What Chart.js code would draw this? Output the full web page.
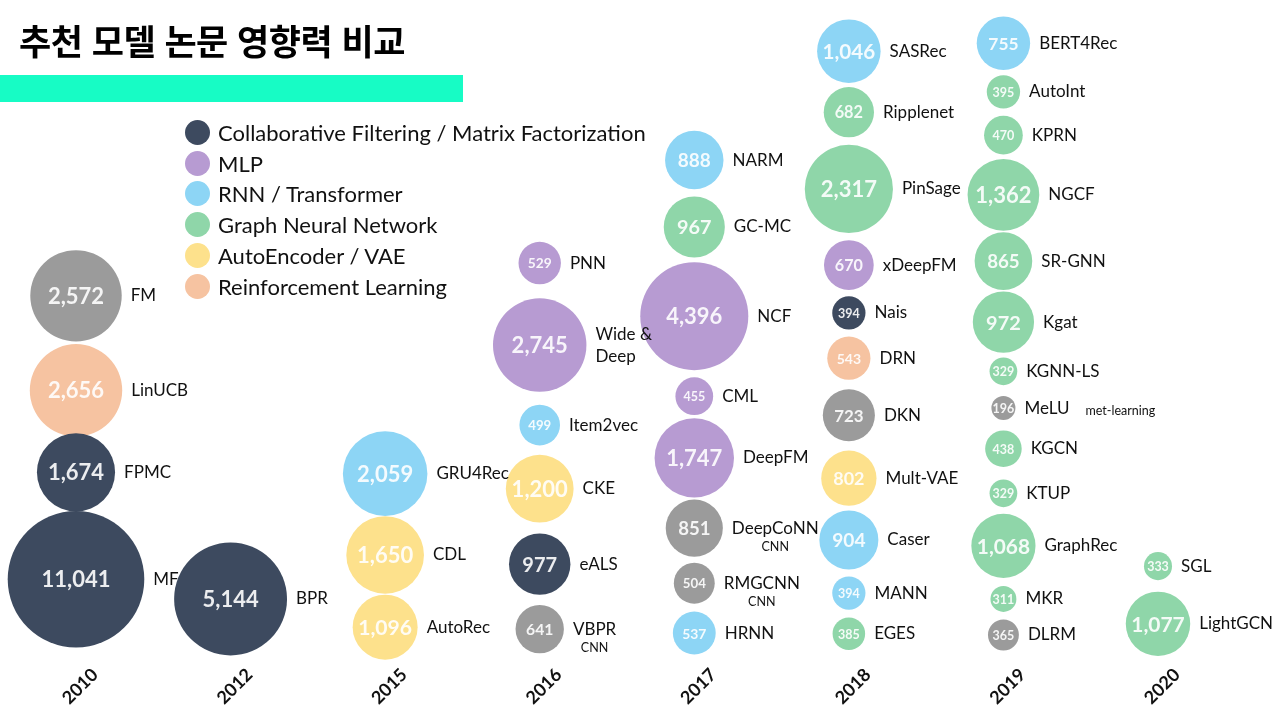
<!DOCTYPE html>
<html lang="ko">
<head>
<meta charset="utf-8">
<title>추천 모델 논문 영향력 비교</title>
<script src="https://cdn.jsdelivr.net/npm/chart.js@4.4.1/dist/chart.umd.min.js"></script>
<style>
    body { margin: 0; background: #fff; }
    #wrap { position: relative; width: 1274px; height: 716px; overflow: hidden; }
    #chart { position: absolute; left: 0; top: 0; }
    h1 {
        position: absolute; left: 19px; top: 14px; margin: 0;
        font: 700 35px "Noto Sans CJK KR", sans-serif; color: #000; letter-spacing: -0.5px;
    }
    .bar { position: absolute; left: 0; top: 75px; width: 463px; height: 27px; background: #17fcc5; }
    #legend { position: absolute; left: 185px; top: 117px; margin: 0; padding: 0; list-style: none; }
    #legend li { height: 30.8px; display: flex; align-items: center; font: 22px Lato, sans-serif; color: #111; }
    #legend span { width: 25px; height: 25px; border-radius: 50%; margin-right: 8px; flex: none; }
</style>
</head>
<body>
<div id="wrap">
    <canvas id="chart" width="1274" height="716"></canvas>
    <h1>추천 모델 논문 영향력 비교</h1>
    <div class="bar"></div>
    <ul id="legend"></ul>
</div>
<script>
// 데이터
const years = ['2010', '2012', '2015', '2016', '2017', '2018', '2019', '2020'];
const groups = [
    'Collaborative Filtering / Matrix Factorization',
    'MLP',
    'RNN / Transformer',
    'Graph Neural Network',
    'AutoEncoder / VAE',
    'Reinforcement Learning',
    'Other'
];
const groupColors = ['#3d4a5f', '#b79bd2', '#8dd5f5', '#8fd6a9', '#fde18c', '#f6c3a1', '#9b9b9b'];

const modelNames = [
    'FM', 'LinUCB', 'FPMC', 'MF',
    'BPR',
    'GRU4Rec', 'CDL', 'AutoRec',
    'PNN', 'Wide &\nDeep', 'Item2vec', 'CKE', 'eALS', 'VBPR',
    'NARM', 'GC-MC', 'NCF', 'CML', 'DeepFM', 'DeepCoNN', 'RMGCNN', 'HRNN',
    'SASRec', 'Ripplenet', 'PinSage', 'xDeepFM', 'Nais', 'DRN', 'DKN', 'Mult-VAE', 'Caser', 'MANN', 'EGES',
    'BERT4Rec', 'AutoInt', 'KPRN', 'NGCF', 'SR-GNN', 'Kgat', 'KGNN-LS', 'MeLU', 'KGCN', 'KTUP', 'GraphRec', 'MKR', 'DLRM',
    'SGL', 'LightGCN'
];
const modelYears = [
    '2010', '2010', '2010', '2010',
    '2012',
    '2015', '2015', '2015',
    '2016', '2016', '2016', '2016', '2016', '2016',
    '2017', '2017', '2017', '2017', '2017', '2017', '2017', '2017',
    '2018', '2018', '2018', '2018', '2018', '2018', '2018', '2018', '2018', '2018', '2018',
    '2019', '2019', '2019', '2019', '2019', '2019', '2019', '2019', '2019', '2019', '2019', '2019', '2019',
    '2020', '2020'
];
const citations = [
    2572, 2656, 1674, 11041,
    5144,
    2059, 1650, 1096,
    529, 2745, 499, 1200, 977, 641,
    888, 967, 4396, 455, 1747, 851, 504, 537,
    1046, 682, 2317, 670, 394, 543, 723, 802, 904, 394, 385,
    755, 395, 470, 1362, 865, 972, 329, 196, 438, 329, 1068, 311, 365,
    333, 1077
];
// 0: CF/MF, 1: MLP, 2: RNN/Transformer, 3: GNN, 4: AE/VAE, 5: RL, 6: 기타(회색)
const modelGroups = [
    6, 5, 0, 0,
    0,
    2, 4, 4,
    1, 1, 2, 4, 0, 6,
    2, 3, 1, 1, 1, 6, 6, 2,
    2, 3, 3, 1, 0, 5, 6, 4, 2, 2, 3,
    2, 3, 3, 3, 3, 3, 3, 6, 3, 3, 3, 3, 6,
    3, 3
];
// 세로 위치 (0 = 아래, 100 = 위)
const rowLevels = [
    54.9, 40.5, 28.0, 11.7,
    8.7,
    27.8, 15.4, 4.4,
    59.9, 47.4, 35.2, 25.5, 14.0, 4.1,
    75.6, 65.4, 51.8, 39.6, 30.2, 19.5, 11.1, 3.5,
    92.2, 82.9, 71.2, 59.6, 52.3, 45.4, 36.7, 27.1, 17.7, 9.6, 3.4,
    93.4, 86.0, 79.4, 70.3, 60.2, 50.9, 43.4, 37.8, 31.6, 24.8, 16.8, 8.7, 3.2,
    13.7, 4.9
];
const modelNotes = {
    'VBPR': 'CNN',
    'DeepCoNN': 'CNN',
    'RMGCNN': 'CNN',
    'MeLU': 'met-learning'
};

// 인용 수 -> 버블 반지름
function bubbleRadius(v) {
    return Math.max(12, 15.5 * Math.log(v) - 76);
}

const datasets = groups.map((g, gi) => ({
    label: g,
    backgroundColor: groupColors[gi],
    borderWidth: 0,
    hoverBorderWidth: 0,
    clip: false,
    data: modelNames
        .map((name, i) => ({
            x: modelYears[i], y: rowLevels[i], r: bubbleRadius(citations[i]),
            name: name, cit: citations[i], group: modelGroups[i]
        }))
        .filter(d => d.group === gi)
}));

// 버블 안의 숫자와 옆의 모델 이름
const bubbleLabels = {
    id: 'bubbleLabels',
    afterDatasetsDraw(chart) {
        const ctx = chart.ctx;
        ctx.save();
        chart.data.datasets.forEach((ds, di) => {
            chart.getDatasetMeta(di).data.forEach((el, j) => {
                const d = ds.data[j];
                const r = el.options.radius;
                const txt = d.cit.toLocaleString('en-US');

                let size = Math.min(22, Math.max(12.5, r * 0.65));
                ctx.font = 'bold ' + size + 'px Lato, sans-serif';
                while (ctx.measureText(txt).width > r * 1.9 && size > 10) {
                    size -= 0.5;
                    ctx.font = 'bold ' + size + 'px Lato, sans-serif';
                }
                ctx.fillStyle = 'rgba(255,255,255,0.9)';
                ctx.textAlign = 'center';
                ctx.textBaseline = 'middle';
                ctx.fillText(txt, el.x, el.y + 1);

                ctx.font = '17px Lato, sans-serif';
                ctx.fillStyle = '#111';
                ctx.textAlign = 'left';
                const lines = d.name.split('\n');
                const nx = el.x + r + 9;
                lines.forEach((ln, k) => {
                    ctx.fillText(ln, nx, el.y + (k - (lines.length - 1) / 2) * 22);
                });

                const note = modelNotes[d.name];
                if (note) {
                    const w = ctx.measureText(d.name).width;
                    ctx.font = '12.5px Lato, sans-serif';
                    if (note.length > 6) {
                        ctx.fillText(note, nx + w + 16, el.y + 3);
                    } else {
                        ctx.textAlign = 'center';
                        ctx.fillText(note, nx + w / 2, el.y + 19);
                    }
                }
            });
        });
        ctx.restore();
    }
};

const chart = new Chart(document.getElementById('chart'), {
    type: 'bubble',
    data: { labels: years, datasets: datasets },
    options: {
        responsive: false,
        animation: false,
        events: [],
        layout: { autoPadding: false, padding: { left: 76, right: 116, top: 0, bottom: 0 } },
        plugins: {
            legend: { display: false },
            title: { display: false },
            tooltip: { enabled: false }
        },
        scales: {
            x: {
                type: 'category',
                labels: years,
                offset: false,
                grid: { display: false, drawTicks: false },
                border: { display: false },
                afterFit: s => { s.height = 60; },
                ticks: {
                    minRotation: 45,
                    maxRotation: 45,
                    padding: 8,
                    labelOffset: 19,
                    color: '#111',
                    font: { family: 'Lato, sans-serif', size: 18, weight: 'bold' }
                }
            },
            y: {
                display: false,
                min: 0,
                max: 100
            }
        }
    },
    plugins: [bubbleLabels]
});

// 범례 (회색 '기타'는 제외)
const legendEl = document.getElementById('legend');
groups.slice(0, 6).forEach((g, i) => {
    const li = document.createElement('li');
    const dot = document.createElement('span');
    dot.style.background = groupColors[i];
    li.appendChild(dot);
    li.appendChild(document.createTextNode(g));
    legendEl.appendChild(li);
});
</script>
</body>
</html>
